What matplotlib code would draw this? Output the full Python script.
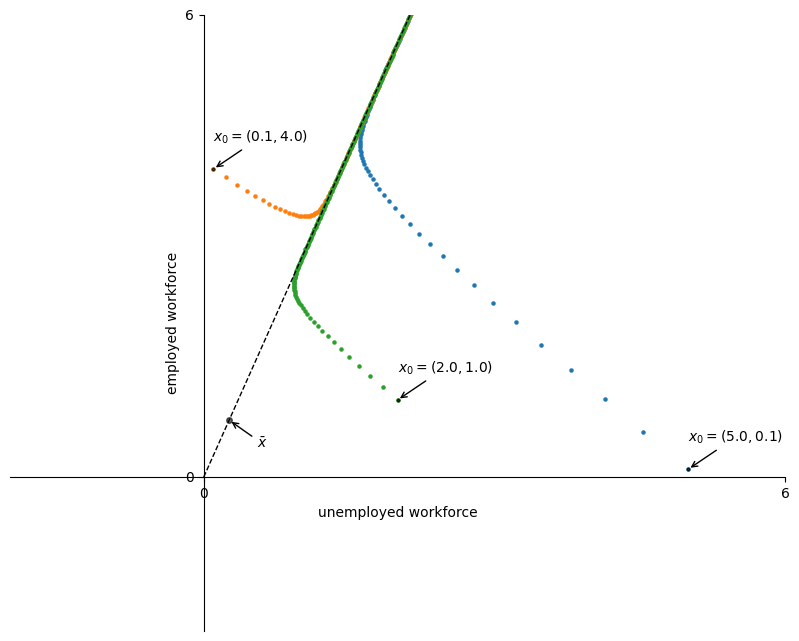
import numpy as np
import matplotlib
matplotlib.use("Agg")
import matplotlib.pyplot as plt

# Initial conditions (unemployed, employed)
x0_points = [(5.0, 0.1), (0.1, 4.0), (2.0, 1.0)]

# Steady state x-bar and the line D through it
xbar = (0.262, 0.738)
line_d_u = [0.0, 2.62]
line_d_e = [0.0, 7.38]

# Path from x0 = (5.0, 0.1)
blue_u = [5,4.538,4.137,3.787,3.484,3.219,2.99,2.791,2.618,2.468,2.338,2.226,2.129,2.045,1.973,1.911,1.858,1.813,1.775,1.742,1.714,1.691,1.672,1.657,1.644,1.634,1.626,1.62,1.616,1.614,1.613,1.613,1.614,1.616,1.618,1.622,1.626,1.631,1.636,1.641,1.647,1.653,1.66,1.666,1.673,1.681,1.688,1.695,1.703,1.711,1.719,1.727,1.735,1.743,1.752,1.76,1.769,1.777,1.786,1.795,1.804,1.813,1.821,1.831,1.84,1.849,1.858,1.867,1.876,1.886,1.895,1.905,1.914,1.924,1.933,1.943,1.953,1.962,1.972,1.982,1.992,2.002,2.012,2.022,2.032,2.042,2.052,2.063,2.073,2.083,2.094,2.104,2.115,2.125,2.136,2.146,2.157]
blue_e = [0.1,0.587,1.014,1.389,1.719,2.009,2.265,2.491,2.69,2.866,3.023,3.162,3.286,3.396,3.496,3.585,3.665,3.738,3.804,3.865,3.921,3.972,4.019,4.063,4.105,4.143,4.18,4.215,4.248,4.28,4.31,4.34,4.369,4.397,4.424,4.451,4.477,4.503,4.529,4.554,4.579,4.604,4.629,4.654,4.678,4.703,4.727,4.752,4.776,4.801,4.826,4.85,4.875,4.9,4.925,4.949,4.974,5,5.025,5.05,5.075,5.101,5.127,5.152,5.178,5.204,5.23,5.256,5.283,5.309,5.336,5.363,5.389,5.416,5.443,5.471,5.498,5.526,5.553,5.581,5.609,5.637,5.665,5.693,5.722,5.751,5.779,5.808,5.837,5.866,5.896,5.925,5.955,5.985,6.015,6.045,6.075]

# Path from x0 = (0.1, 4.0)
orange_u = [0.1,0.23,0.344,0.444,0.532,0.61,0.678,0.738,0.792,0.839,0.881,0.918,0.952,0.982,1.008,1.033,1.054,1.074,1.092,1.109,1.124,1.138,1.151,1.163,1.174,1.185,1.195,1.205,1.214,1.223,1.232,1.24,1.248,1.256,1.264,1.271,1.279,1.286,1.293,1.3,1.308,1.315,1.322,1.329,1.336,1.343,1.35,1.357,1.364,1.371,1.378,1.385,1.392,1.399,1.406,1.413,1.42,1.427,1.434,1.442,1.449,1.456,1.464,1.471,1.478,1.486,1.493,1.501,1.508,1.516,1.523,1.531,1.539,1.546,1.554,1.562,1.57,
            1.577,1.585,1.593,1.601,1.609,1.617,1.625,1.633,1.642,1.65,1.658,1.666,1.675,1.683,1.692,1.7,1.708,1.717,1.726,1.734,1.743,1.752,1.76,1.769,1.778,1.787,1.796,1.805,1.814,1.823,1.832,1.841,1.85,1.86,1.869,1.878,1.888,1.897,1.907,1.916,1.926,1.935,1.945,1.955,1.965,1.974,1.984,1.994,2.004,2.014,2.024,2.034,2.044,2.055,2.065,2.075,2.086,2.096,2.107,2.117,2.128,2.138,2.149]
orange_e = [4,3.891,3.797,3.718,3.65,3.594,3.546,3.507,3.475,3.449,3.429,3.413,3.401,3.393,3.388,3.386,3.386,3.389,3.393,3.399,3.406,3.415,3.425,3.435,3.447,3.459,3.472,3.486,3.5,3.515,3.53,3.546,3.561,3.578,3.594,3.611,3.628,3.645,3.662,3.68,3.698,3.716,3.734,3.752,3.77,3.789,3.808,3.826,3.845,3.864,3.884,3.903,3.922,3.942,3.961,3.981,4.001,4.021,4.041,4.061,4.081,4.102,4.122,4.143,4.163,4.184,4.205,4.226,4.247,4.269,4.29,4.311,4.333,4.355,4.376,4.398,4.42,4.442,4.464,4.487,4.509,4.532,4.554,4.577,4.6,4.623,4.646,4.669,4.693,4.716,4.74,4.763,4.787,4.811,4.835,4.859,4.884,4.908,4.933,4.957,4.982,5.007,5.032,5.057,5.083,5.108,5.134,5.159,5.185,5.211,5.237,5.263,5.289,5.316,5.342,5.369,5.396,5.423,5.45,5.477,5.505,5.532,5.56,5.588,5.616,5.644,5.672,5.7,5.729,5.757,5.786,5.815,5.844,5.874,5.903,5.932,5.962,5.992,6.022,6.052]

# Path from x0 = (2.0, 1.0)
green_u = [2,1.849,1.717,1.603,1.504,1.419,1.344,1.28,1.225,1.177,1.136,1.1,1.07,1.044,1.022,1.003,0.988,0.974,0.964,0.955,0.947,0.942,0.937,0.934,0.932,0.93,0.93,0.93,0.93,0.932,0.933,0.935,0.937,0.94,0.943,0.946,0.95,0.953,0.957,0.961,0.965,0.969,0.973,0.978,0.982,0.987,0.991,0.996,1.001,1.005,1.01,1.015,1.02,1.025,1.03,1.035,1.04,1.045,1.05,1.055,1.061,1.066,1.071,1.077,1.082,1.087,1.093,1.098,1.104,1.109,1.115,1.12,1.126,1.131,1.137,1.143,1.149,1.154,1.16,1.166,1.172,1.177,1.183,1.189,1.195,1.201,1.207,1.213,1.219,1.225,1.232,1.238,1.244,1.25,1.256,1.263,1.269,1.275,1.282,1.288,1.295,1.301,1.307,1.314,1.321,1.327,1.334,1.341,1.347,1.354,1.361,1.368,1.374,1.381,1.388,1.395,1.402,1.409,1.416,1.423,1.43,1.437,1.445,1.452,1.459,1.466,1.474,1.481,1.489,1.496,1.503,1.511,1.519,1.526,1.534,1.541,1.549,1.557,1.565,1.572,1.58,1.588,1.596,1.604,1.612,1.62,1.628,1.636,1.645,1.653,1.661,1.669,1.678,1.686,1.695,1.703,1.712,1.72,1.729,1.737,1.746,1.755,1.764,1.772,1.781,1.79,1.799,1.808,1.817,1.826,1.835,1.845,1.854,1.863,1.872,1.882,1.891,1.901,1.91,1.92,1.929,1.939,1.949,1.958,1.968,1.978,1.988,1.998,2.008,2.018,2.028,2.038,2.048,2.059,2.069,2.079,2.09,2.1,2.11,2.121,2.132,2.142,2.153]
green_e = [1,1.166,1.313,1.442,1.556,1.657,1.747,1.826,1.897,1.961,2.018,2.069,2.115,2.157,2.195,2.23,2.262,2.291,2.318,2.344,2.367,2.39,2.411,2.431,2.45,2.468,2.486,2.503,2.519,2.535,2.551,2.567,2.582,2.597,2.611,2.626,2.64,2.655,2.669,2.683,2.698,2.712,2.726,2.74,2.754,2.768,2.783,2.797,2.811,2.825,2.84,2.854,2.868,2.883,2.897,2.912,2.927,2.941,2.956,2.971,2.986,3.001,3.016,3.031,3.046,3.061,3.077,3.092,3.108,3.123,3.139,3.154,3.17,3.186,3.202,3.218,3.234,3.25,3.267,3.283,3.299,3.316,3.332,3.349,3.366,3.383,3.4,3.417,3.434,3.451,3.468,3.485,3.503,3.52,3.538,3.556,3.573,3.591,3.609,3.627,3.645,3.664,3.682,3.7,3.719,3.738,3.756,3.775,3.794,3.813,3.832,3.851,3.87,3.89,3.909,3.929,3.948,3.968,3.988,4.008,4.028,4.048,4.068,4.089,4.109,4.13,4.15,4.171,4.192,4.213,4.234,4.255,4.276,4.298,4.319,4.341,4.362,4.384,4.406,4.428,4.45,4.473,4.495,4.517,4.54,4.563,4.586,4.609,4.632,4.655,4.678,4.701,4.725,4.749,4.772,4.796,4.82,4.844,4.868,4.893,4.917,4.942,4.967,4.991,5.016,5.041,5.067,5.092,5.117,5.143,5.169,5.195,5.22,5.247,5.273,5.299,5.326,5.352,5.379,5.406,5.433,5.46,5.487,5.515,5.542,5.57,5.598,5.626,5.654,5.682,5.711,5.739,5.768,5.797,5.826,5.855,5.884,5.914,5.943,5.973,6.003,6.033,6.063]

paths = [(blue_u, blue_e), (orange_u, orange_e), (green_u, green_e)]

fig = plt.figure(figsize=(7.99, 6.41), dpi=100)
ax = fig.add_axes([10/799, 10/641, 775/799, 616/641])
for sp in ["left", "bottom"]:
    ax.spines[sp].set_position("zero")
for sp in ["right", "top"]:
    ax.spines[sp].set_color("none")
ax.set_xlim(-2, 6)
ax.set_ylim(-2, 6)
ax.set_xticks((0, 6))
ax.set_yticks((0, 6))
ax.set_xlabel("unemployed workforce")
ax.set_ylabel("employed workforce")

ax.plot(line_d_u, line_d_e, "k--", lw=1)
for u, e in paths:
    ax.scatter(u, e, s=5)

ax.plot([xbar[0]], [xbar[1]], "ko", ms=4, alpha=0.6)
ax.annotate(r"$\bar{x}$", xy=xbar, xytext=(20, -20), textcoords="offset points",
            fontsize=10, arrowprops=dict(arrowstyle="->"))
for x0 in x0_points:
    ax.plot([x0[0]], [x0[1]], "ko", ms=2, alpha=0.6)
    ax.annotate(f"$x_0 = ({x0[0]}, {x0[1]})$", xy=x0, xytext=(0, 20),
                textcoords="offset points", fontsize=10,
                arrowprops=dict(arrowstyle="->"))

fig.savefig("out.png")
